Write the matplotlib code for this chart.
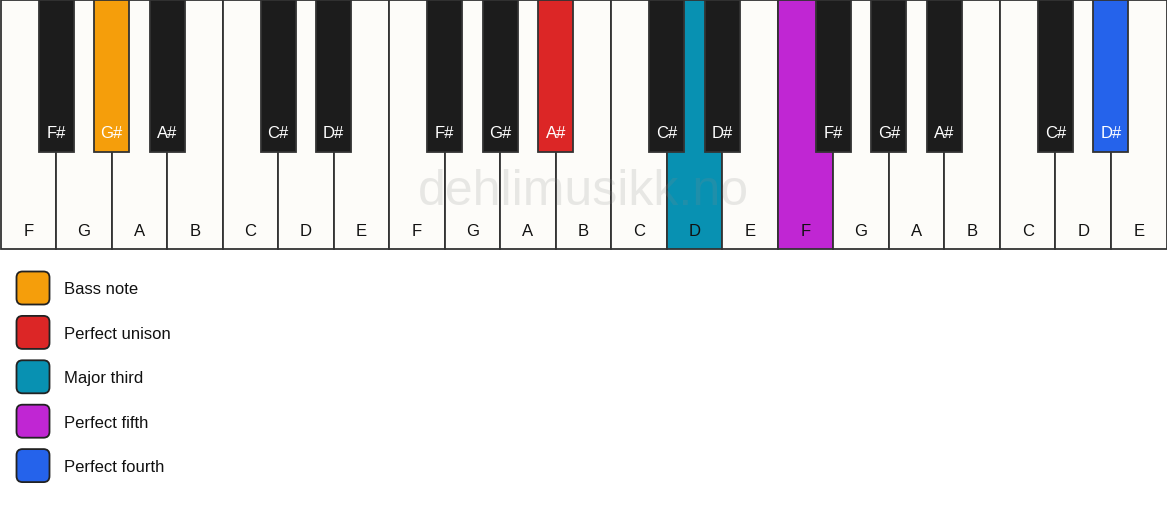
import matplotlib
matplotlib.use("Agg")
import matplotlib.pyplot as plt
from matplotlib.patches import Rectangle, FancyBboxPatch

plt.rcParams['font.family'] = ['Liberation Sans', 'DejaVu Sans']

# ---- data ----
white_notes = ["F", "G", "A", "B", "C", "D", "E"] * 3
# black keys: (name, index of white key to its left)
black_names = ["F#", "G#", "A#", "C#", "D#"] * 3
black_after = [0, 1, 2, 4, 5, 7, 8, 9, 11, 12, 14, 15, 16, 18, 19]

legend_labels = ["Bass note", "Perfect unison", "Major third", "Perfect fifth", "Perfect fourth"]
legend_colors = ["#f59e0b", "#dc2626", "#0891b2", "#c026d3", "#2563eb"]

# highlighted keys: index -> colour
white_highlight = {12: "#0891b2", 14: "#c026d3"}
black_highlight = {1: "#f59e0b", 7: "#dc2626", 14: "#2563eb"}

watermark = "dehlimusikk.no"

# ---- layout ----
W, H = 1167, 506
fig = plt.figure(figsize=(W / 100, H / 100), dpi=100)
ax = fig.add_axes([0, 0, 1, 1])
ax.set_xlim(0, W)
ax.set_ylim(H, 0)
ax.axis("off")
fig.patch.set_facecolor("white")

kw = (W - 1) / len(white_notes)
top, kh = 0.5, 249.5
bw, bh = 35, 153
edge = "#333333"
white_fill = "#fdfcf9"
black_fill = "#1c1c1c"
fs = 12

for i, name in enumerate(white_notes):
    fc = white_highlight.get(i, white_fill)
    ax.add_patch(Rectangle((0.5 + i * kw, top), kw, kh, facecolor=fc,
                           edgecolor=edge, linewidth=1.3, zorder=1))
    ax.text(0.5 + i * kw + kw / 2, 231, name, ha="center", va="center",
            fontsize=fs, color="#111111", zorder=5)

# watermark
ax.text(W / 2, 192, watermark, ha="center", va="center", fontsize=36,
        color="#888888", alpha=0.18, zorder=2)

for j, (name, a) in enumerate(zip(black_names, black_after)):
    cx = 0.5 + (a + 1) * kw
    fc = black_highlight.get(j, black_fill)
    ax.add_patch(Rectangle((cx - bw / 2, top), bw, bh - top, facecolor=fc,
                           edgecolor=edge, linewidth=1.3, zorder=3))
    ax.text(cx, 133.5, name, ha="center", va="center", fontsize=fs,
            color="white", zorder=5)

# legend
for k, (lab, col) in enumerate(zip(legend_labels, legend_colors)):
    cy = 289 + k * 44.4
    ax.add_patch(FancyBboxPatch((16.5, cy - 16.5), 33, 33,
                                boxstyle="round,pad=0,rounding_size=6",
                                facecolor=col, edgecolor="#222222",
                                linewidth=1.3, zorder=3))
    ax.text(64, cy + 1, lab, ha="left", va="center", fontsize=fs,
            color="#111111", zorder=5)

fig.savefig("out.png", dpi=100, facecolor="white")
